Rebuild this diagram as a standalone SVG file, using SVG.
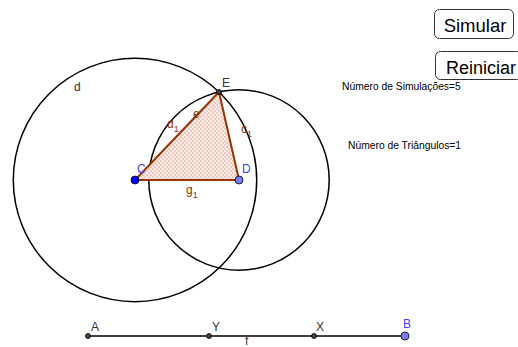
<svg xmlns="http://www.w3.org/2000/svg" width="518" height="347" viewBox="0 0 518 347">
<style>
.t{font-family:"Liberation Sans",Arial,sans-serif;}
.lbl{font-size:12px;fill:#333;}
.blue{fill:#4040ff;}
.brown{fill:#993300;}
.edge{stroke:#993300;stroke-width:2;fill:none;}
.circ{stroke:#000;stroke-width:1.5;fill:none;}
.btn{fill:#fff;stroke:#333;stroke-width:1;}
.pt{fill:#444;stroke:#000;stroke-width:0.8;}
.info{font-size:10.3px;fill:#000;}
</style>
<defs>
<pattern id="dots" width="4" height="4" patternUnits="userSpaceOnUse">
<rect width="4" height="4" fill="#fcede8"/>
<circle cx="1" cy="1" r="0.7" fill="#e08a75"/>
<circle cx="3" cy="3" r="0.7" fill="#e08a75"/>
</pattern>
</defs>
<rect width="518" height="347" fill="#fff"/>
<g id="circle-d"><circle class="circ" cx="135" cy="180" r="121.7"/><text class="t lbl" x="74" y="91">d</text></g>
<g id="circle-c"><circle class="circ" cx="239" cy="180" r="90.2"/></g>
<g id="triangle">
<polygon points="135,180 219,92 239,180" fill="url(#dots)"/>
<line class="edge" x1="135" y1="180" x2="219" y2="92"/>
<line class="edge" x1="219" y1="92" x2="239" y2="180"/>
<line class="edge" x1="135" y1="180" x2="239" y2="180"/>
<text class="t lbl brown" x="167" y="128">d<tspan font-size="9" dy="4">1</tspan></text>
<text class="t lbl brown" x="193" y="118">e</text>
<text class="t lbl brown" x="241" y="133">c<tspan font-size="9" dy="4">1</tspan></text>
<text class="t lbl brown" x="186" y="194">g<tspan font-size="9" dy="4">1</tspan></text>
</g>
<g id="C"><circle cx="135" cy="180" r="4" fill="#0000ff" stroke="#000" stroke-width="0.8"/><text class="t lbl blue" x="137" y="173">C</text></g>
<g id="D"><circle cx="239" cy="180" r="4" fill="#7b7bff" stroke="#000" stroke-width="0.8"/><text class="t lbl blue" x="242" y="173">D</text></g>
<g id="E"><circle class="pt" cx="219" cy="92" r="2.5"/><text class="t lbl" x="222" y="87">E</text></g>
<g id="btn-simular"><rect class="btn" x="434.5" y="9.5" width="79" height="29" rx="5"/><text class="t" x="475" y="32" font-size="18.5" text-anchor="middle" fill="#000">Simular</text></g>
<g id="btn-reiniciar"><rect class="btn" x="435.5" y="51.5" width="86" height="28" rx="5"/><text class="t" x="446" y="74" font-size="18" fill="#000">Reiniciar</text></g>
<g id="info"><text class="t info" x="342" y="90">Número de Simulações=5</text><text class="t info" x="348" y="149">Número de Triângulos=1</text></g>
<g id="connectors"><line x1="88" y1="336" x2="405" y2="336" stroke="#000" stroke-width="1.5"/></g>
<g id="A"><circle class="pt" cx="88" cy="336" r="2.5"/><text class="t lbl" x="91" y="331">A</text></g>
<g id="Y"><circle class="pt" cx="209" cy="336" r="2.5"/><text class="t lbl" x="212" y="331">Y</text></g>
<g id="X"><circle class="pt" cx="314" cy="336" r="2.5"/><text class="t lbl" x="316" y="331">X</text></g>
<g id="B"><circle cx="405" cy="336" r="4" fill="#7b7bff" stroke="#000" stroke-width="0.8"/><text class="t lbl blue" x="403" y="328">B</text></g>
<text class="t lbl" x="245" y="345" font-size="11">f</text>
</svg>
